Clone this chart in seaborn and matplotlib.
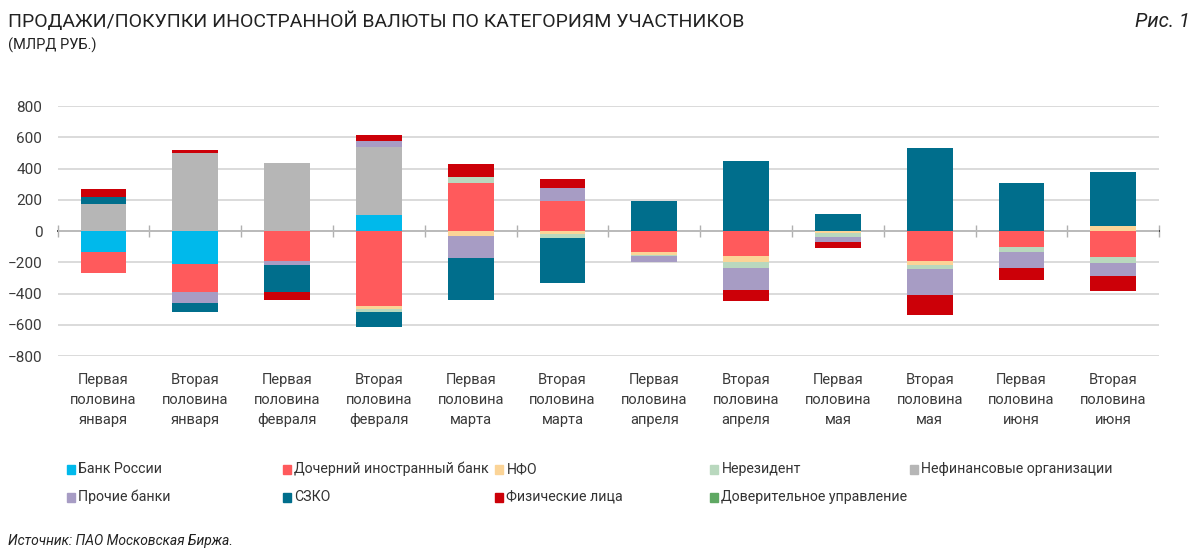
import numpy as np
import pandas as pd
import matplotlib
matplotlib.use("Agg")
import matplotlib.pyplot as plt
import seaborn as sns
from matplotlib.patches import Rectangle

periods = ["Первая\nполовина\nянваря", "Вторая\nполовина\nянваря",
           "Первая\nполовина\nфевраля", "Вторая\nполовина\nфевраля",
           "Первая\nполовина\nмарта", "Вторая\nполовина\nмарта",
           "Первая\nполовина\nапреля", "Вторая\nполовина\nапреля",
           "Первая\nполовина\nмая", "Вторая\nполовина\nмая",
           "Первая\nполовина\nиюня", "Вторая\nполовина\nиюня"]

categories = ["Банк России", "Дочерний иностранный банк", "НФО", "Нерезидент",
              "Нефинансовые организации", "Прочие банки", "СЗКО", "Физические лица",
              "Доверительное управление"]

bank_russia = [-134, -209, 0, 104, 0, 0, 0, 0, 0, 0, 0, 0]
foreign_sub = [-134, -181, -189, -481, 311, 194, -134, -162, 0, -189, -104, -164]
nfo = [0, 0, 0, -17, -34, -17, -20, -36, -13, -26, 0, 34]
nonresident = [0, 0, 0, -19, 34, -28, -5, -38, -23, -28, -30, -40]
nonfinancial = [175, 498, 438, 436, 0, 0, 0, 0, 0, 0, 0, 0]
other_banks = [0, -70, -28, 38, -138, 85, -38, -140, -34, -166, -102, -85]
szko = [45, -60, -175, -96, -266, -287, 196, 451, 109, 532, 311, 345]
individuals = [48, 21, -47, 38, 85, 55, 0, -70, -40, -126, -79, -94]
trust = [0] * 12

series = [bank_russia, foreign_sub, nfo, nonresident, nonfinancial,
          other_banks, szko, individuals, trust]
colors = ["#00b9eb", "#ff5a5c", "#fbd497", "#b9d8be", "#b6b6b6",
          "#a79cc4", "#006e8c", "#cc0008", "#5fa863"]

sns.set_theme(style="white")
plt.rcParams["font.family"] = ["Roboto", "DejaVu Sans"]

fig = plt.figure(figsize=(12, 5.53), dpi=100)
ax = fig.add_axes([0.048, 0.356, 0.918, 0.452])

pos_base = np.zeros(len(periods))
neg_base = np.zeros(len(periods))
for name, vals, col in zip(categories, series, colors):
    v = np.array(vals, dtype=float)
    pos = np.where(v > 0, v, 0)
    neg = np.where(v < 0, v, 0)
    df = pd.DataFrame({"period": periods, "pos": pos, "neg": neg})
    sns.barplot(data=df, x="period", y="pos", color=col, width=0.5,
                bottom=pos_base, ax=ax, saturation=1, linewidth=0, errorbar=None)
    sns.barplot(data=df, x="period", y="neg", color=col, width=0.5,
                bottom=neg_base, ax=ax, saturation=1, linewidth=0, errorbar=None)
    pos_base += pos
    neg_base += neg

ax.set_xlim(-0.5, len(periods) - 0.5)
ax.set_ylim(-800, 800)
ax.set_yticks(np.arange(-800, 801, 200))
ax.yaxis.grid(True, color="#d4d4d4", linewidth=1.2)
ax.set_axisbelow(True)
for s in ax.spines.values():
    s.set_visible(False)
ax.set_xlabel("")
ax.set_ylabel("")
ax.tick_params(axis="y", length=0, pad=11, labelsize=11, labelcolor="#3a3a3a")
ax.tick_params(axis="x", length=0, pad=12, labelsize=10.5, labelcolor="#3a3a3a")
for t in ax.get_xticklabels():
    t.set_linespacing(1.55)

# zero line with separators between periods
zero = ax.secondary_xaxis(0.5)
zero.set_xticks(np.arange(-0.5, len(periods), 1.0), labels=[])
zero.tick_params(direction="inout", length=8, color="#b0b0b0", width=1)
zero.spines["bottom"].set_color("#b0b0b0")
zero.spines["bottom"].set_linewidth(1.1)

txt_font = ["Roboto", "DejaVu Sans"]
fig.text(0.007, 0.962, "ПРОДАЖИ/ПОКУПКИ ИНОСТРАННОЙ ВАЛЮТЫ ПО КАТЕГОРИЯМ УЧАСТНИКОВ",
         fontsize=14, color="#222222", family=txt_font, va="center", ha="left")
fig.text(0.007, 0.918, "(МЛРД РУБ.)", fontsize=10.5, color="#222222",
         family=txt_font, va="center", ha="left")
fig.text(0.992, 0.962, "Рис. 1", fontsize=14.5, color="#222222", style="italic",
         family=txt_font, va="center", ha="right")
fig.text(0.007, 0.021, "Источник: ПАО Московская Биржа.", fontsize=10,
         color="#222222", style="italic", family=txt_font, va="center", ha="left")

legend_cols = [67, 283, 495, 710, 910]
legend_rows = [469, 497]
for i, (name, col) in enumerate(zip(categories, colors)):
    x = legend_cols[i % 5] / 1200
    y = 1 - legend_rows[i // 5] / 553
    fig.patches.append(Rectangle((x, y - 0.009), 0.0065, 0.016, color=col,
                                 transform=fig.transFigure, figure=fig))
    fig.text(x + 0.0095, y, name, fontsize=10.2, color="#333333",
             family=txt_font, va="center", ha="left")

fig.savefig("out.png", dpi=100)
